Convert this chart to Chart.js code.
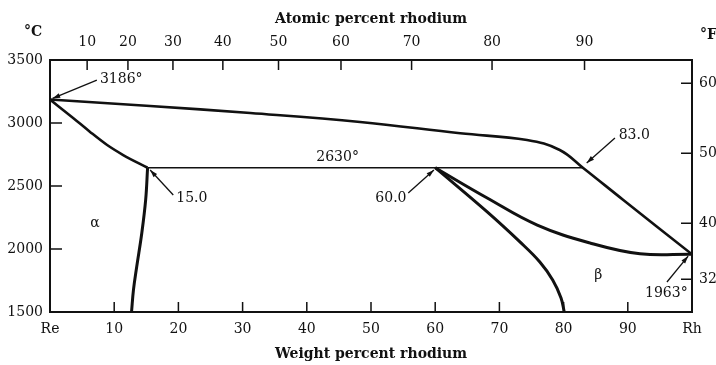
<!DOCTYPE html>
<html>
<head>
<meta charset="utf-8">
<script src="https://cdn.jsdelivr.net/npm/chart.js@4/dist/chart.umd.min.js"></script>
<style>
  html, body { margin: 0; padding: 0; background: #fff; }
  #wrap { width: 716px; height: 365px; }
</style>
</head>
<body>
<div id="wrap"><canvas id="phase"></canvas></div>
<script>
// weight percent rhodium (x) and temperature in deg C (y)
var liquidusWt = [0, 15.6, 31.2, 48.3, 63.9, 74.3, 79.4, 83.0, 89.3, 100];
var liquidusC  = [3186, 3135, 3079, 3008, 2918, 2865, 2786, 2645, 2389, 1958];

var reSolidusWt = [0, 3.6, 6.2, 8.9, 11.4, 15.2];
var reSolidusC  = [3186, 3040, 2931, 2825, 2746, 2645];

var alphaSolvusWt = [15.2, 14.9, 14.3, 13.5, 13.0, 12.7];
var alphaSolvusC  = [2645, 2389, 2127, 1857, 1675, 1500];

var betaSolvusWt = [60.0, 68.1, 73.2, 76.3, 78.3, 79.6, 80.1];
var betaSolvusC  = [2645, 2294, 2056, 1897, 1754, 1611, 1500];

var betaSolidusWt = [60.0, 68.1, 75.9, 84.1, 91.9, 100];
var betaSolidusC  = [2645, 2405, 2190, 2048, 1962, 1958];

var peritecticWt = [15.2, 83.0];
var peritecticC  = [2645, 2645];

// tick labels
var weightTicks = [0, 10, 20, 30, 40, 50, 60, 70, 80, 90, 100];
var atomicTicks = [10, 20, 30, 40, 50, 60, 70, 80, 90];
var celsiusTicks = [1500, 2000, 2500, 3000, 3500];
var fahrenheitTicks = [3200, 4000, 5000, 6000];

// notes on the diagram
var noteText = ['3186°', '2630°', '15.0', '60.0', '83.0', '1963°', 'α', 'β'];
var noteWt   = [11.1, 44.8, 22.1, 53.1, 91.0, 96.0, 7.0, 85.4];
var noteC    = [3349, 2730, 2405, 2405, 2905, 1651, 2206, 1794];

var arrowFromWt = [7.3, 19.2, 55.8, 88.0, 96.1];
var arrowFromC  = [3341, 2429, 2444, 2881, 1738];
var arrowToWt   = [0.4, 15.6, 59.8, 83.6, 99.4];
var arrowToC    = [3195, 2627, 2627, 2683, 1944];

var RE_MASS = 186.207, RH_MASS = 102.906;
var INK = '#111';
var SERIF = '"DejaVu Serif", serif';

function atomicToWeight(a) {
  return 100 * a * RH_MASS / (a * RH_MASS + (100 - a) * RE_MASS);
}
function toF(c) { return c * 1.8 + 32; }

function points(xs, ys) {
  return xs.map(function (x, i) { return { x: x, y: ys[i] }; });
}

function curve(xs, ys, width, mono) {
  var ds = {
    data: points(xs, ys),
    showLine: true,
    borderColor: INK,
    borderWidth: width,
    pointRadius: 0,
    tension: 0.4,
    fill: false
  };
  if (mono) ds.cubicInterpolationMode = 'monotone';
  return ds;
}

// ==========================================================================
// inward tick marks, notes and arrows
// ==========================================================================
var decorations = {
  id: 'decorations',
  afterDraw: function (chart) {
    var c = chart.ctx, a = chart.chartArea, s = chart.scales;
    c.save();
    c.strokeStyle = INK;
    c.fillStyle = INK;
    c.lineWidth = 1.5;

    c.beginPath();
    weightTicks.forEach(function (v) {
      if (v <= 0 || v >= 100) return;
      var px = s.x.getPixelForValue(v);
      c.moveTo(px, a.bottom); c.lineTo(px, a.bottom - 10);
    });
    atomicTicks.forEach(function (v) {
      var px = s.x2.getPixelForValue(atomicToWeight(v));
      c.moveTo(px, a.top); c.lineTo(px, a.top + 10);
    });
    celsiusTicks.forEach(function (v) {
      if (v <= 1500 || v >= 3500) return;
      var py = s.y.getPixelForValue(v);
      c.moveTo(a.left, py); c.lineTo(a.left + 12, py);
    });
    fahrenheitTicks.forEach(function (v) {
      var py = s.y2.getPixelForValue(v);
      c.moveTo(a.right, py); c.lineTo(a.right - 11, py);
    });
    c.stroke();

    // notes
    c.font = '14px ' + SERIF;
    c.textAlign = 'center';
    c.textBaseline = 'middle';
    noteText.forEach(function (t, i) {
      c.fillText(t, s.x.getPixelForValue(noteWt[i]), s.y.getPixelForValue(noteC[i]));
    });

    // arrows
    c.lineWidth = 1.3;
    arrowFromWt.forEach(function (w, i) {
      var x1 = s.x.getPixelForValue(w), y1 = s.y.getPixelForValue(arrowFromC[i]);
      var x2 = s.x.getPixelForValue(arrowToWt[i]), y2 = s.y.getPixelForValue(arrowToC[i]);
      var ang = Math.atan2(y2 - y1, x2 - x1);
      c.beginPath();
      c.moveTo(x1, y1); c.lineTo(x2, y2);
      c.stroke();
      c.beginPath();
      c.moveTo(x2, y2);
      c.lineTo(x2 - 8 * Math.cos(ang - 0.3), y2 - 8 * Math.sin(ang - 0.3));
      c.lineTo(x2 - 8 * Math.cos(ang + 0.3), y2 - 8 * Math.sin(ang + 0.3));
      c.closePath();
      c.fill();
    });

    // unit marks
    c.font = 'bold 14px ' + SERIF;
    c.textAlign = 'center';
    c.fillText('°C', 33, 32);
    c.textAlign = 'left';
    c.fillText('°F', 700, 35);
    c.restore();
  }
};

var axisBorder = { display: true, color: INK, width: 2 };
var noGrid = { display: false, drawTicks: false, tickLength: 0 };
var tickFont = { family: SERIF, size: 14 };
var titleFont = { family: SERIF, size: 14, weight: 'bold' };

var chart = new Chart(document.getElementById('phase'), {
  type: 'scatter',
  data: {
    datasets: [
      curve(liquidusWt, liquidusC, 2.6, false),
      curve(reSolidusWt, reSolidusC, 2.6, true),
      curve(alphaSolvusWt, alphaSolvusC, 3, false),
      curve(betaSolvusWt, betaSolvusC, 3, false),
      curve(betaSolidusWt, betaSolidusC, 3, false),
      curve(peritecticWt, peritecticC, 1.6, false)
    ]
  },
  options: {
    responsive: true,
    maintainAspectRatio: false,
    animation: false,
    layout: { padding: 0 },
    plugins: { legend: { display: false }, tooltip: { enabled: false } },
    scales: {
      x: {
        type: 'linear', position: 'bottom', min: 0, max: 100,
        grid: noGrid, border: axisBorder,
        afterBuildTicks: function (scale) {
          scale.ticks = weightTicks.map(function (v) { return { value: v }; });
        },
        ticks: {
          autoSkip: false, maxRotation: 0, padding: 9, color: INK, font: tickFont,
          callback: function (v) { return v === 0 ? 'Re' : v === 100 ? 'Rh' : String(v); }
        },
        title: { display: true, text: 'Weight percent rhodium', color: INK, font: titleFont, padding: { top: 0, bottom: 2 } },
        afterFit: function (scale) { scale.height = 53; }
      },
      x2: {
        type: 'linear', position: 'top', min: 0, max: 100,
        grid: noGrid, border: axisBorder,
        afterBuildTicks: function (scale) {
          scale.ticks = atomicTicks.map(function (v) { return { value: atomicToWeight(v) }; });
        },
        ticks: {
          autoSkip: false, maxRotation: 0, padding: 9, color: INK, font: tickFont,
          callback: function (v, i) { return String(atomicTicks[i]); }
        },
        title: { display: true, text: 'Atomic percent rhodium', color: INK, font: titleFont, padding: { top: 11, bottom: 0 } },
        afterFit: function (scale) { scale.height = 60; }
      },
      y: {
        type: 'linear', position: 'left', min: 1500, max: 3500,
        grid: noGrid, border: axisBorder,
        afterBuildTicks: function (scale) {
          scale.ticks = celsiusTicks.map(function (v) { return { value: v }; });
        },
        ticks: {
          autoSkip: false, padding: 7, color: INK, font: tickFont,
          callback: function (v) { return String(v); }
        },
        afterFit: function (scale) { scale.width = 50; }
      },
      y2: {
        type: 'linear', position: 'right', min: toF(1500), max: toF(3500),
        grid: noGrid, border: axisBorder,
        afterBuildTicks: function (scale) {
          scale.ticks = fahrenheitTicks.map(function (v) { return { value: v }; });
        },
        ticks: {
          autoSkip: false, padding: 7, color: INK, font: tickFont,
          callback: function (v) { return String(v); }
        },
        afterFit: function (scale) { scale.width = 24; }
      }
    }
  },
  plugins: [decorations]
});
</script>
</body>
</html>
